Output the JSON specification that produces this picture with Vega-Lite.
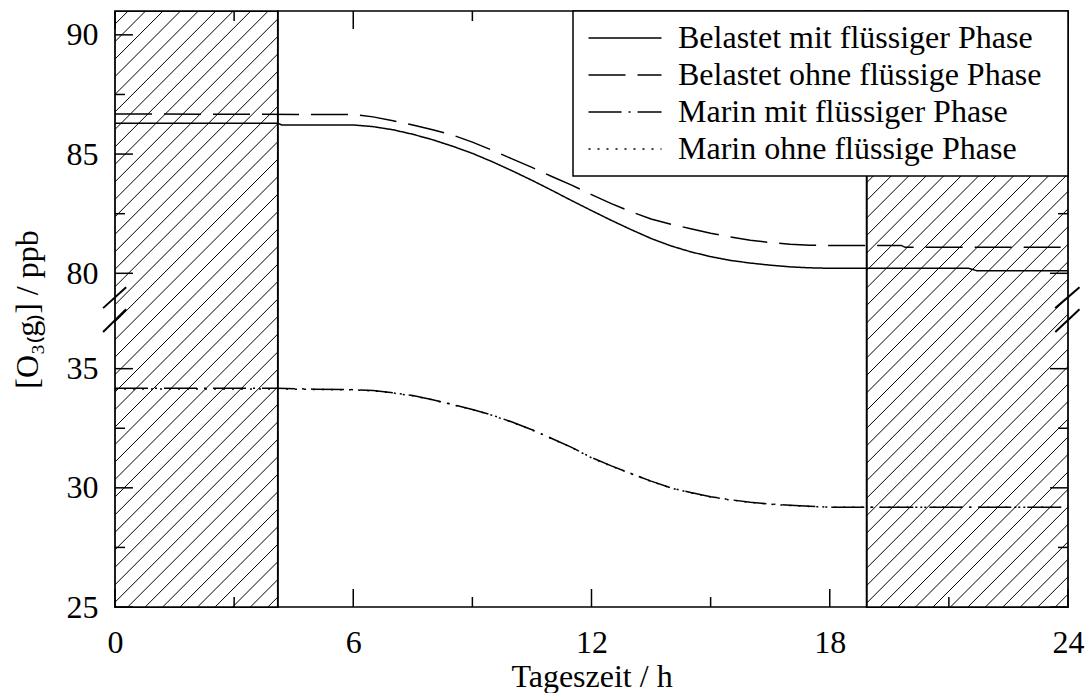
{
  "$schema": "https://vega.github.io/schema/vega-lite/v6.json",
  "width": 953,
  "height": 596,
  "autosize": "none",
  "padding": {"left": 115, "top": 11, "right": 21, "bottom": 86},
  "background": "white",
  "config": {
    "view": {"stroke": null},
    "font": "Liberation Serif",
    "axis": {
      "grid": false, "zindex": 1, "ticks": false, "domain": false,
      "labelFont": "Liberation Serif", "labelFontSize": 32, "labelColor": "black",
      "titleFont": "Liberation Serif", "titleFontSize": 32, "titleColor": "black", "titleFontWeight": "normal",
      "labelFlush": false, "labelOverlap": false, "labelBound": false
    },
    "rule": {"color": "black", "strokeWidth": 1.5, "strokeCap": "butt"},
    "legend": {"strokeWidth": 1.5}
  },
  "datasets": {
    "series": [
      {"series": "Belastet mit flüssiger Phase", "t": 0, "o3": 86.29},
      {"series": "Belastet mit flüssiger Phase", "t": 4.1, "o3": 86.29},
      {"series": "Belastet mit flüssiger Phase", "t": 4.2, "o3": 86.22},
      {"series": "Belastet mit flüssiger Phase", "t": 6, "o3": 86.22},
      {"series": "Belastet mit flüssiger Phase", "t": 6.5, "o3": 86.15},
      {"series": "Belastet mit flüssiger Phase", "t": 7, "o3": 86.02},
      {"series": "Belastet mit flüssiger Phase", "t": 7.5, "o3": 85.83},
      {"series": "Belastet mit flüssiger Phase", "t": 8, "o3": 85.6},
      {"series": "Belastet mit flüssiger Phase", "t": 8.5, "o3": 85.33},
      {"series": "Belastet mit flüssiger Phase", "t": 9, "o3": 85.03},
      {"series": "Belastet mit flüssiger Phase", "t": 9.5, "o3": 84.68},
      {"series": "Belastet mit flüssiger Phase", "t": 10, "o3": 84.3},
      {"series": "Belastet mit flüssiger Phase", "t": 10.5, "o3": 83.9},
      {"series": "Belastet mit flüssiger Phase", "t": 11, "o3": 83.48},
      {"series": "Belastet mit flüssiger Phase", "t": 11.5, "o3": 83.05},
      {"series": "Belastet mit flüssiger Phase", "t": 12, "o3": 82.63},
      {"series": "Belastet mit flüssiger Phase", "t": 12.5, "o3": 82.22},
      {"series": "Belastet mit flüssiger Phase", "t": 13, "o3": 81.83},
      {"series": "Belastet mit flüssiger Phase", "t": 13.5, "o3": 81.46},
      {"series": "Belastet mit flüssiger Phase", "t": 14, "o3": 81.15},
      {"series": "Belastet mit flüssiger Phase", "t": 14.5, "o3": 80.9},
      {"series": "Belastet mit flüssiger Phase", "t": 15, "o3": 80.7},
      {"series": "Belastet mit flüssiger Phase", "t": 15.5, "o3": 80.54},
      {"series": "Belastet mit flüssiger Phase", "t": 16, "o3": 80.43},
      {"series": "Belastet mit flüssiger Phase", "t": 16.5, "o3": 80.34},
      {"series": "Belastet mit flüssiger Phase", "t": 17, "o3": 80.27},
      {"series": "Belastet mit flüssiger Phase", "t": 17.5, "o3": 80.23},
      {"series": "Belastet mit flüssiger Phase", "t": 18, "o3": 80.21},
      {"series": "Belastet mit flüssiger Phase", "t": 21.5, "o3": 80.21},
      {"series": "Belastet mit flüssiger Phase", "t": 21.7, "o3": 80.11},
      {"series": "Belastet mit flüssiger Phase", "t": 24, "o3": 80.11},
      {"series": "Belastet ohne flüssige Phase", "t": 0, "o3": 86.68},
      {"series": "Belastet ohne flüssige Phase", "t": 6, "o3": 86.66},
      {"series": "Belastet ohne flüssige Phase", "t": 6.5, "o3": 86.56},
      {"series": "Belastet ohne flüssige Phase", "t": 7, "o3": 86.4},
      {"series": "Belastet ohne flüssige Phase", "t": 7.5, "o3": 86.22},
      {"series": "Belastet ohne flüssige Phase", "t": 8, "o3": 86.02},
      {"series": "Belastet ohne flüssige Phase", "t": 8.5, "o3": 85.8},
      {"series": "Belastet ohne flüssige Phase", "t": 9, "o3": 85.5},
      {"series": "Belastet ohne flüssige Phase", "t": 9.5, "o3": 85.16},
      {"series": "Belastet ohne flüssige Phase", "t": 10, "o3": 84.8},
      {"series": "Belastet ohne flüssige Phase", "t": 10.5, "o3": 84.44},
      {"series": "Belastet ohne flüssige Phase", "t": 11, "o3": 84.06},
      {"series": "Belastet ohne flüssige Phase", "t": 11.5, "o3": 83.7},
      {"series": "Belastet ohne flüssige Phase", "t": 12, "o3": 83.3},
      {"series": "Belastet ohne flüssige Phase", "t": 12.5, "o3": 82.92},
      {"series": "Belastet ohne flüssige Phase", "t": 13, "o3": 82.58},
      {"series": "Belastet ohne flüssige Phase", "t": 13.5, "o3": 82.28},
      {"series": "Belastet ohne flüssige Phase", "t": 14, "o3": 82.06},
      {"series": "Belastet ohne flüssige Phase", "t": 14.5, "o3": 81.87},
      {"series": "Belastet ohne flüssige Phase", "t": 15, "o3": 81.68},
      {"series": "Belastet ohne flüssige Phase", "t": 15.5, "o3": 81.52},
      {"series": "Belastet ohne flüssige Phase", "t": 16, "o3": 81.39},
      {"series": "Belastet ohne flüssige Phase", "t": 16.5, "o3": 81.29},
      {"series": "Belastet ohne flüssige Phase", "t": 17, "o3": 81.22},
      {"series": "Belastet ohne flüssige Phase", "t": 17.5, "o3": 81.18},
      {"series": "Belastet ohne flüssige Phase", "t": 18, "o3": 81.17},
      {"series": "Belastet ohne flüssige Phase", "t": 19.8, "o3": 81.17},
      {"series": "Belastet ohne flüssige Phase", "t": 19.9, "o3": 81.09},
      {"series": "Belastet ohne flüssige Phase", "t": 24, "o3": 81.09},
      {"series": "Marin mit flüssiger Phase", "t": 0, "o3": 34.18},
      {"series": "Marin mit flüssiger Phase", "t": 4.1, "o3": 34.18},
      {"series": "Marin mit flüssiger Phase", "t": 5, "o3": 34.14},
      {"series": "Marin mit flüssiger Phase", "t": 6, "o3": 34.12},
      {"series": "Marin mit flüssiger Phase", "t": 6.5, "o3": 34.08},
      {"series": "Marin mit flüssiger Phase", "t": 7, "o3": 33.99},
      {"series": "Marin mit flüssiger Phase", "t": 7.5, "o3": 33.87},
      {"series": "Marin mit flüssiger Phase", "t": 8, "o3": 33.7},
      {"series": "Marin mit flüssiger Phase", "t": 8.5, "o3": 33.5},
      {"series": "Marin mit flüssiger Phase", "t": 9, "o3": 33.29},
      {"series": "Marin mit flüssiger Phase", "t": 9.5, "o3": 33.05},
      {"series": "Marin mit flüssiger Phase", "t": 10, "o3": 32.76},
      {"series": "Marin mit flüssiger Phase", "t": 10.5, "o3": 32.44},
      {"series": "Marin mit flüssiger Phase", "t": 11, "o3": 32.07},
      {"series": "Marin mit flüssiger Phase", "t": 11.5, "o3": 31.7},
      {"series": "Marin mit flüssiger Phase", "t": 12, "o3": 31.27},
      {"series": "Marin mit flüssiger Phase", "t": 12.5, "o3": 30.92},
      {"series": "Marin mit flüssiger Phase", "t": 13, "o3": 30.6},
      {"series": "Marin mit flüssiger Phase", "t": 13.5, "o3": 30.28},
      {"series": "Marin mit flüssiger Phase", "t": 14, "o3": 30.0},
      {"series": "Marin mit flüssiger Phase", "t": 14.5, "o3": 29.8},
      {"series": "Marin mit flüssiger Phase", "t": 15, "o3": 29.63},
      {"series": "Marin mit flüssiger Phase", "t": 15.5, "o3": 29.5},
      {"series": "Marin mit flüssiger Phase", "t": 16, "o3": 29.4},
      {"series": "Marin mit flüssiger Phase", "t": 16.5, "o3": 29.32},
      {"series": "Marin mit flüssiger Phase", "t": 17, "o3": 29.27},
      {"series": "Marin mit flüssiger Phase", "t": 17.5, "o3": 29.23},
      {"series": "Marin mit flüssiger Phase", "t": 18, "o3": 29.19},
      {"series": "Marin mit flüssiger Phase", "t": 24, "o3": 29.19},
      {"series": "Marin ohne flüssige Phase", "t": 0, "o3": 34.15},
      {"series": "Marin ohne flüssige Phase", "t": 4.1, "o3": 34.15},
      {"series": "Marin ohne flüssige Phase", "t": 5, "o3": 34.13},
      {"series": "Marin ohne flüssige Phase", "t": 6, "o3": 34.11},
      {"series": "Marin ohne flüssige Phase", "t": 6.5, "o3": 34.07},
      {"series": "Marin ohne flüssige Phase", "t": 7, "o3": 33.98},
      {"series": "Marin ohne flüssige Phase", "t": 7.5, "o3": 33.86},
      {"series": "Marin ohne flüssige Phase", "t": 8, "o3": 33.69},
      {"series": "Marin ohne flüssige Phase", "t": 8.5, "o3": 33.49},
      {"series": "Marin ohne flüssige Phase", "t": 9, "o3": 33.28},
      {"series": "Marin ohne flüssige Phase", "t": 9.5, "o3": 33.04},
      {"series": "Marin ohne flüssige Phase", "t": 10, "o3": 32.75},
      {"series": "Marin ohne flüssige Phase", "t": 10.5, "o3": 32.43},
      {"series": "Marin ohne flüssige Phase", "t": 11, "o3": 32.06},
      {"series": "Marin ohne flüssige Phase", "t": 11.5, "o3": 31.69},
      {"series": "Marin ohne flüssige Phase", "t": 12, "o3": 31.26},
      {"series": "Marin ohne flüssige Phase", "t": 12.5, "o3": 30.91},
      {"series": "Marin ohne flüssige Phase", "t": 13, "o3": 30.59},
      {"series": "Marin ohne flüssige Phase", "t": 13.5, "o3": 30.27},
      {"series": "Marin ohne flüssige Phase", "t": 14, "o3": 29.99},
      {"series": "Marin ohne flüssige Phase", "t": 14.5, "o3": 29.79},
      {"series": "Marin ohne flüssige Phase", "t": 15, "o3": 29.62},
      {"series": "Marin ohne flüssige Phase", "t": 15.5, "o3": 29.49},
      {"series": "Marin ohne flüssige Phase", "t": 16, "o3": 29.39},
      {"series": "Marin ohne flüssige Phase", "t": 16.5, "o3": 29.31},
      {"series": "Marin ohne flüssige Phase", "t": 17, "o3": 29.26},
      {"series": "Marin ohne flüssige Phase", "t": 17.5, "o3": 29.22},
      {"series": "Marin ohne flüssige Phase", "t": 18, "o3": 29.19},
      {"series": "Marin ohne flüssige Phase", "t": 24, "o3": 29.19}
    ],
    "hatch": [
      {"h": -14.67}, {"h": -14.23}, {"h": -13.79}, {"h": -13.35}, {"h": -12.9}, {"h": -12.46},
      {"h": -12.02}, {"h": -11.58}, {"h": -11.14}, {"h": -10.7}, {"h": -10.26}, {"h": -9.82},
      {"h": -9.38}, {"h": -8.94}, {"h": -8.5}, {"h": -8.06}, {"h": -7.61}, {"h": -7.17},
      {"h": -6.73}, {"h": -6.29}, {"h": -5.85}, {"h": -5.41}, {"h": -4.97}, {"h": -4.53},
      {"h": -4.09}, {"h": -3.65}, {"h": -3.21}, {"h": -2.77}, {"h": -2.32}, {"h": -1.88},
      {"h": -1.44}, {"h": -1.0}, {"h": -0.56}, {"h": -0.12}, {"h": 0.32}, {"h": 0.76},
      {"h": 1.2}, {"h": 1.64}, {"h": 2.08}, {"h": 2.52}, {"h": 2.96}, {"h": 3.41},
      {"h": 3.85}, {"h": 4.29}, {"h": 4.73}, {"h": 5.17}, {"h": 5.61}, {"h": 6.05},
      {"h": 6.49}, {"h": 6.93}, {"h": 7.37}, {"h": 7.81}, {"h": 8.25}, {"h": 8.7},
      {"h": 9.14}, {"h": 9.58}, {"h": 10.02}, {"h": 10.46}, {"h": 10.9}, {"h": 11.34},
      {"h": 11.78}, {"h": 12.22}, {"h": 12.66}, {"h": 13.1}, {"h": 13.54}, {"h": 13.98},
      {"h": 14.43}, {"h": 14.87}, {"h": 15.31}, {"h": 15.75}, {"h": 16.19}, {"h": 16.63},
      {"h": 17.07}, {"h": 17.51}, {"h": 17.95}, {"h": 18.39}, {"h": 18.83}, {"h": 19.27},
      {"h": 19.72}, {"h": 20.16}, {"h": 20.6}, {"h": 21.04}, {"h": 21.48}, {"h": 21.92},
      {"h": 22.36}, {"h": 22.8}, {"h": 23.24}, {"h": 23.68}
    ],
    "night": [
      {"start": 0, "end": 4.1},
      {"start": 18.93, "end": 24}
    ],
    "breaks": [
      {"bx": -0.3, "bx2": 0.28, "by": 78.54, "by2": 79.42},
      {"bx": -0.3, "bx2": 0.28, "by": 36.54, "by2": 78.49},
      {"bx": 23.68, "bx2": 24.29, "by": 78.54, "by2": 79.42},
      {"bx": 23.68, "bx2": 24.29, "by": 36.54, "by2": 78.49}
    ],
    "xmajor": [{"v": 0}, {"v": 6}, {"v": 12}, {"v": 18}, {"v": 24}],
    "xminor": [{"v": 3}, {"v": 9}, {"v": 15}, {"v": 21}],
    "ymajor": [{"v": 25}, {"v": 30}, {"v": 35}, {"v": 80}, {"v": 85}, {"v": 90}],
    "yminor": [{"v": 27.5}, {"v": 32.5}, {"v": 82.5}, {"v": 87.5}]
  },
  "layer": [
    {
      "data": {"name": "hatch"},
      "transform": [{"calculate": "datum.h + 15", "as": "h2"}],
      "mark": {"type": "rule", "clip": true, "color": "black", "strokeWidth": 1},
      "encoding": {
        "x": {"field": "h", "type": "quantitative",
              "scale": {"domain": [0, 24], "nice": false, "zero": false},
              "axis": {"orient": "bottom", "values": [0, 6, 12, 18, 24],
                       "labelPadding": 20.5, "title": "Tageszeit / h", "titlePadding": 3}},
        "x2": {"field": "h2"},
        "y": {"datum": 25, "type": "quantitative",
              "scale": {"domain": [25, 37, 78, 91], "range": [596, 310, 310, 0], "nice": false, "zero": false},
              "axis": {"orient": "left", "values": [25, 30, 35, 80, 85, 90],
                       "labelPadding": 17, "title": "[O₃₍g₎] / ppb", "titlePadding": 22}},
        "y2": {"datum": 91}
      }
    },
    {
      "data": {"values": [{}]},
      "mark": {"type": "rect", "fill": "white", "stroke": "black", "strokeWidth": 1.5},
      "encoding": {
        "x": {"datum": 4.1, "type": "quantitative", "axis": null},
        "x2": {"datum": 18.93},
        "y": {"datum": 25, "type": "quantitative", "axis": null},
        "y2": {"datum": 91}
      }
    },
    {
      "data": {"name": "night"},
      "mark": {"type": "rect", "fill": null, "fillOpacity": 0, "stroke": "black", "strokeWidth": 1.75},
      "encoding": {
        "x": {"field": "start", "type": "quantitative", "axis": null},
        "x2": {"field": "end"},
        "y": {"datum": 25, "type": "quantitative", "axis": null},
        "y2": {"datum": 91}
      }
    },
    {
      "data": {"name": "series"},
      "mark": {"type": "line", "color": "black", "strokeWidth": 1.5},
      "encoding": {
        "x": {"field": "t", "type": "quantitative", "axis": null},
        "y": {"field": "o3", "type": "quantitative", "axis": null},
        "strokeDash": {"field": "series", "type": "nominal",
          "scale": {"domain": ["Belastet mit flüssiger Phase", "Belastet ohne flüssige Phase", "Marin mit flüssiger Phase", "Marin ohne flüssige Phase"],
                    "range": [[1, 0], [37, 12], [33, 7, 2, 7], [2, 7]]},
          "legend": {"orient": "top-right", "offset": 0, "title": "M", "titleOrient": "right", "titleColor": "white",
                     "titleFontSize": 16, "titlePadding": 0,
                     "symbolType": "M-2.4333,0H2.4333", "symbolSize": 900, "symbolStrokeWidth": 1.5,
                     "symbolStrokeColor": "black", "symbolOffset": 25, "labelOffset": 37,
                     "labelFont": "Liberation Serif", "labelFontSize": 32, "labelColor": "black", "labelLimit": 600,
                     "padding": 11, "rowPadding": 5, "fillColor": "white", "strokeColor": "black", "zindex": 3}}
      }
    },
    {
      "data": {"name": "breaks"},
      "mark": {"type": "rule", "strokeWidth": 2},
      "encoding": {
        "x": {"field": "bx", "type": "quantitative", "axis": null},
        "x2": {"field": "bx2"},
        "y": {"field": "by", "type": "quantitative", "axis": null},
        "y2": {"field": "by2"}
      }
    },
    {
      "data": {"name": "xmajor"},
      "mark": {"type": "rule"},
      "encoding": {
        "x": {"field": "v", "type": "quantitative", "axis": null},
        "y": {"datum": 25, "type": "quantitative", "axis": null},
        "y2": {"datum": 25.755}
      }
    },
    {
      "data": {"name": "xmajor"},
      "mark": {"type": "rule"},
      "encoding": {
        "x": {"field": "v", "type": "quantitative", "axis": null},
        "y": {"datum": 90.245, "type": "quantitative", "axis": null},
        "y2": {"datum": 91}
      }
    },
    {
      "data": {"name": "xminor"},
      "mark": {"type": "rule"},
      "encoding": {
        "x": {"field": "v", "type": "quantitative", "axis": null},
        "y": {"datum": 25, "type": "quantitative", "axis": null},
        "y2": {"datum": 25.42}
      }
    },
    {
      "data": {"name": "xminor"},
      "mark": {"type": "rule"},
      "encoding": {
        "x": {"field": "v", "type": "quantitative", "axis": null},
        "y": {"datum": 90.58, "type": "quantitative", "axis": null},
        "y2": {"datum": 91}
      }
    },
    {
      "data": {"name": "ymajor"},
      "mark": {"type": "rule"},
      "encoding": {
        "y": {"field": "v", "type": "quantitative", "axis": null},
        "x": {"datum": 0, "type": "quantitative", "axis": null},
        "x2": {"datum": 0.453}
      }
    },
    {
      "data": {"name": "ymajor"},
      "mark": {"type": "rule"},
      "encoding": {
        "y": {"field": "v", "type": "quantitative", "axis": null},
        "x": {"datum": 23.547, "type": "quantitative", "axis": null},
        "x2": {"datum": 24}
      }
    },
    {
      "data": {"name": "yminor"},
      "mark": {"type": "rule"},
      "encoding": {
        "y": {"field": "v", "type": "quantitative", "axis": null},
        "x": {"datum": 0, "type": "quantitative", "axis": null},
        "x2": {"datum": 0.252}
      }
    },
    {
      "data": {"name": "yminor"},
      "mark": {"type": "rule"},
      "encoding": {
        "y": {"field": "v", "type": "quantitative", "axis": null},
        "x": {"datum": 23.748, "type": "quantitative", "axis": null},
        "x2": {"datum": 24}
      }
    }
  ],
  "resolve": {"axis": {"x": "independent", "y": "independent"}}
}
